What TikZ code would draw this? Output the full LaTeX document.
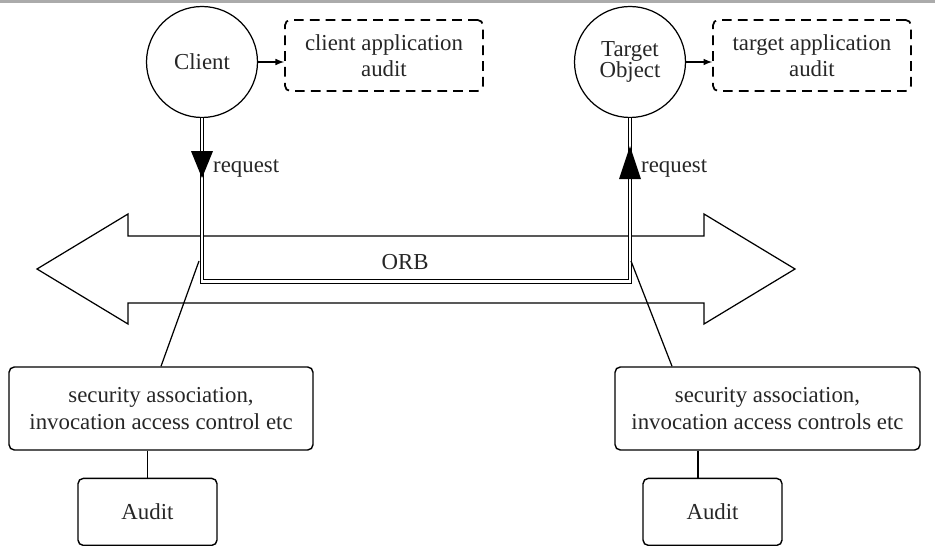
\documentclass[tikz,border=0pt]{standalone}
\usepackage{fontspec}
\setmainfont{Liberation Serif}
\usepackage{tikz}
\usetikzlibrary{positioning,shapes,arrows}
\tikzstyle{ObjNode}=[circle, draw=black, line width=0.7pt, minimum size=2.22cm, inner sep=0pt, align=center]
\tikzstyle{AppAuditNode}=[rectangle, draw=black, line width=1pt, dash pattern=on 5.5pt off 3.5pt, rounded corners=3pt, minimum width=3.96cm, minimum height=1.42cm, align=center]
\tikzstyle{SecNode}=[rectangle, draw=black, line width=0.8pt, rounded corners=3pt, minimum width=6.08cm, minimum height=1.66cm, align=center]
\tikzstyle{AuditNode}=[rectangle, draw=black, line width=0.8pt, rounded corners=3pt, minimum width=2.78cm, minimum height=1.34cm]
\tikzstyle{ReqLine}=[double, line width=0.55pt, double distance=1.2pt]

\begin{document}
\begin{tikzpicture}[x=0.02cm, y=-0.02cm, node distance=0.52cm, font=\fontsize{13}{15}\selectfont, text=black!85]
    \useasboundingbox (0,0) rectangle (935,546);
    \fill[black!33] (0,0) rectangle (935,3.5);

    % the ORB bus
    \draw[line width=0.7pt] (37,269) -- (128,214) -- (128,236) -- (704,236) -- (704,214) -- (795,269)
      -- (704,324) -- (704,303) -- (128,303) -- (128,324) -- cycle;
    \node (orb) at (405,262) {ORB};

    \node (client) [ObjNode] at (202,62) {Client};
    \node (clientaudit) [AppAuditNode, right=of client, yshift=0.13cm] {client application\\audit};
    \node (target) [ObjNode] at (630,62) {Target\\[-3pt]Object};
    \node (targetaudit) [AppAuditNode, right=of target, yshift=0.13cm] {target application\\audit};

    \node (secC) [SecNode] at (161,408.5) {security association,\\invocation access control etc};
    \node (secT) [SecNode, minimum width=6.1cm] at (767.5,408.5) {security association,\\invocation access controls etc};
    \node (auditC) [AuditNode, below=0.54cm of secC, xshift=-0.27cm] {Audit};
    \node (auditT) [AuditNode, below=0.54cm of secT, xshift=-1.1cm] {Audit};

    \node (reqC) [anchor=base west] at (207,173) {request};
    \node (reqT) [anchor=base west] at (635,173) {request};

    \coordinate (bus) at (0,281.5);
    \coordinate (tapC) at (199,261);
    \coordinate (tapT) at (631,261);

    \draw [-latex, line width=0.7pt] (client.east) -- (client.east -| clientaudit.west);
    \draw [-latex, line width=0.7pt] (target.east) -- (target.east -| targetaudit.west);

    \draw [ReqLine] (client.south) |- (target.south |- bus) -- (target.south);
    \fill (client.south) ++(-11,33) -- ++(22,0) -- ++(-11,27) -- cycle;
    \fill (target.south) ++(-11,61) -- ++(22,0) -- ++(-11,-33) -- cycle;

    \draw [line width=0.7pt] (secC.north) -- (tapC);
    \draw [line width=0.7pt] ([xshift=-1.91cm]secT.north) -- (tapT);
    \path ([xshift=-0.29cm]auditT.north) coordinate (auditTtop);
    \draw [line width=0.8pt] (secC.south -| auditC.north) -- (auditC.north);
    \draw [line width=0.8pt] (auditTtop |- secT.south) -- (auditTtop);
\end{tikzpicture}
\end{document}
